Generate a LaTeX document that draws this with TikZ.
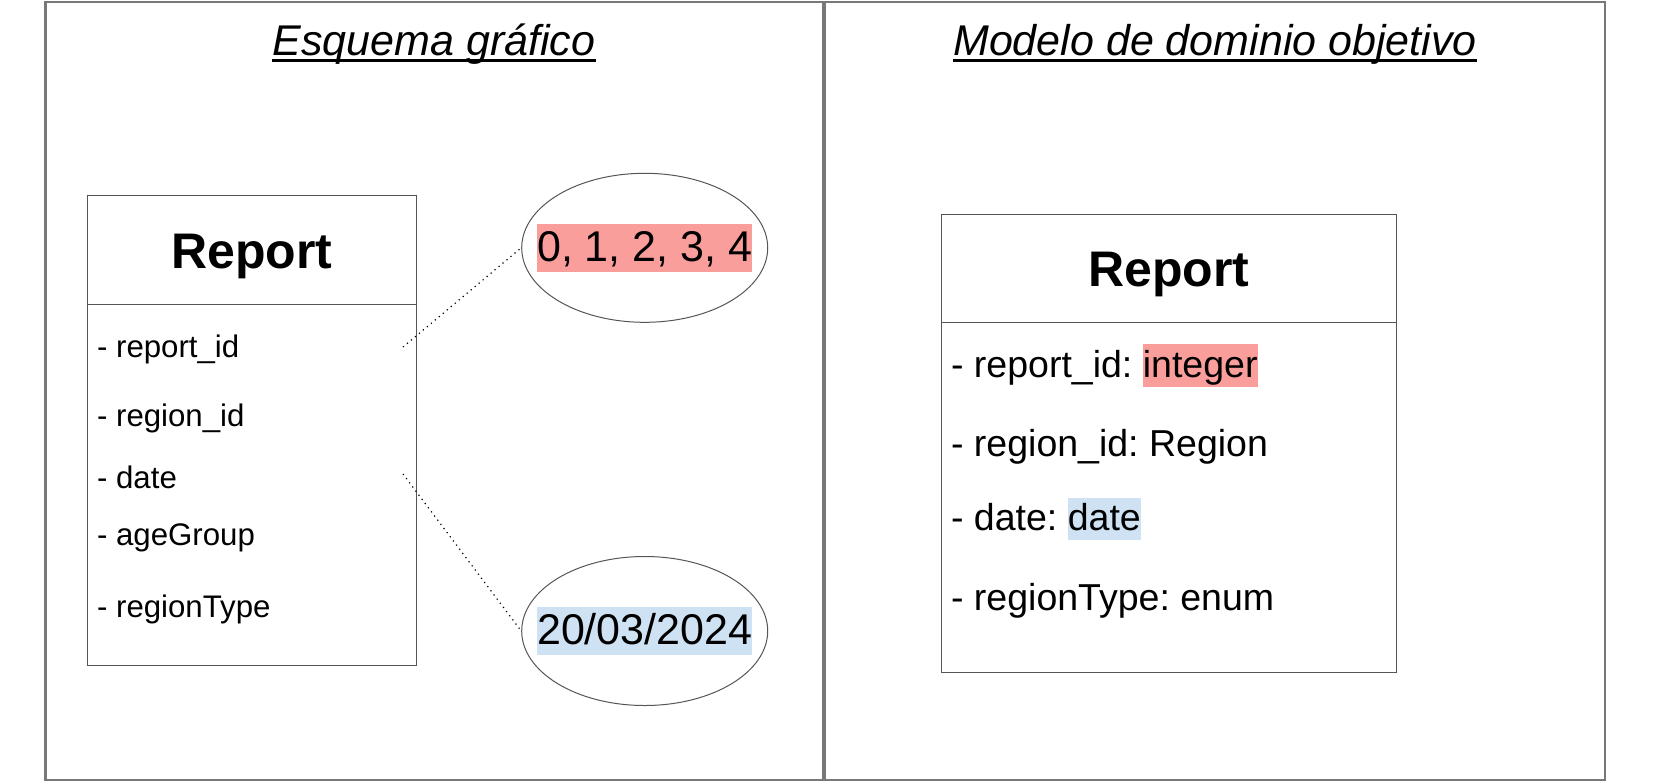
\documentclass[tikz,border=0pt]{standalone}
\usepackage{fontspec}
\setmainfont{Liberation Sans}
\frenchspacing
\usetikzlibrary{shapes.geometric}
\definecolor{rojoclaro}{RGB}{250,158,155}
\definecolor{azulclaro}{RGB}{207,226,243}
\definecolor{gris}{RGB}{120,120,120}
\definecolor{grisosc}{RGB}{85,85,85}
\newcommand{\hlbox}[2]{{\setlength{\fboxsep}{0pt}\colorbox{#1}{\rule[-0.25em]{0pt}{1.13em}#2}}}
\begin{document}
\begin{tikzpicture}[x=0.5pt,y=-0.5pt,
 marco/.style={draw=gris, line width=1.2pt},
 caja/.style={draw=grisosc, line width=0.5pt},
 titulo/.style={inner sep=0pt, anchor=base, font=\fontsize{21.5pt}{26pt}\selectfont\itshape},
 clase/.style={inner sep=0pt, anchor=base, font=\fontsize{25pt}{30pt}\selectfont\bfseries},
 attrA/.style={inner sep=0pt, anchor=base west, font=\fontsize{15.6pt}{19pt}\selectfont},
 attrB/.style={inner sep=0pt, anchor=base west, font=\fontsize{18.75pt}{22pt}\selectfont},
 valor/.style={ellipse, draw=grisosc, line width=0.5pt, inner xsep=-12pt, inner ysep=0pt, minimum width=123pt, minimum height=74.5pt, font=\fontsize{21.5pt}{26pt}\selectfont},
 punteado/.style={dotted, line width=0.6pt}]
 \useasboundingbox (0,0) rectangle (1653,782);
 \draw[marco] (45.5,2) rectangle (823,780);
 \draw[marco] (825,2) rectangle (1605,780);
 \node[titulo] (tituloA) at (434,55) {Esquema gráfico};
 \node[titulo] (tituloB) at (1215,55) {Modelo de dominio objetivo};
 \draw[line width=1.4pt] ([yshift=-2.75pt]tituloA.base west) -- ([yshift=-2.75pt]tituloA.base east);
 \draw[line width=1.4pt] ([yshift=-2.75pt]tituloB.base west) -- ([yshift=-2.75pt]tituloB.base east);
 \draw[caja] (87.3,195) rectangle (416.7,665);
 \draw[caja] (87.3,304.3) -- (416.7,304.3);
 \node[clase] (reportA) at (252,268) {Report};
 \node[attrA] (ridA) at (96.7,357) {- report\_id};
 \node[attrA] (regA) at (96.7,426) {- region\_id};
 \node[attrA] (dateA) at (96.7,488) {- date};
 \node[attrA] (ageA) at (96.7,545) {- ageGroup};
 \node[attrA] (typeA) at (96.7,617) {- regionType};
 \node[valor] (enteros) at (644.7,247.8) {\hlbox{rojoclaro}{0, 1, 2, 3, 4}};
 \node[valor] (fecha) at (644.7,631) {\hlbox{azulclaro}{20/03/2024}};
 \coordinate (pRid) at (403,347);
 \coordinate (pDate) at (403,474);
 \draw[punteado] (pRid) -- (enteros.west);
 \draw[punteado] (pDate) -- (fecha.west);
 \draw[caja] (941,214) rectangle (1396.5,672);
 \draw[caja] (941,322.3) -- (1396.5,322.3);
 \node[clase] (reportB) at (1168.7,286.7) {Report};
 \node[attrB] (ridB) at (950.7,377.3) {- report\_id: \hlbox{rojoclaro}{integer}};
 \node[attrB] (regB) at (950.7,456.7) {- region\_id: Region};
 \node[attrB] (dateB) at (950.7,530.7) {- date: \hlbox{azulclaro}{date}};
 \node[attrB] (typeB) at (950.7,610.7) {- regionType: enum};
\end{tikzpicture}
\end{document}
